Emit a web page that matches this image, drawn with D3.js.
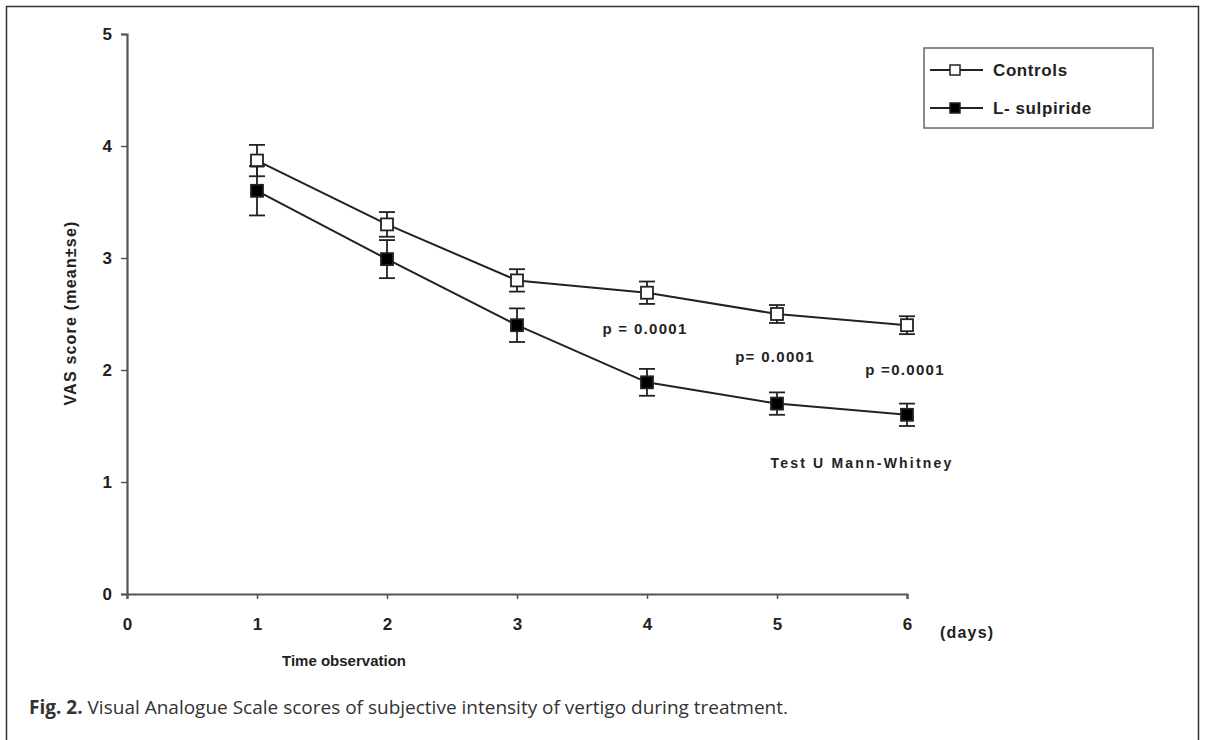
<!DOCTYPE html>
<html><head><meta charset="utf-8">
<script src="https://cdn.jsdelivr.net/npm/d3@7"></script>
<style>body{margin:0;background:#fff}svg{display:block}</style>
</head><body>
<svg id="c" width="1206" height="740"></svg>
<script>
const days = [1, 2, 3, 4, 5, 6];
const xTicks = [0, 1, 2, 3, 4, 5, 6];
const yTicks = [0, 1, 2, 3, 4, 5];
const controlsMean = [3.87, 3.30, 2.80, 2.69, 2.50, 2.40];
const controlsSe   = [0.14, 0.11, 0.10, 0.10, 0.08, 0.08];
const sulpMean     = [3.60, 2.99, 2.40, 1.89, 1.70, 1.60];
const sulpSe       = [0.22, 0.17, 0.15, 0.12, 0.10, 0.10];
const seriesNames  = ["Controls", "L- sulpiride"];
const pLabels = [
  {day: 4, v: 2.37, text: "p = 0.0001"},
  {day: 5, v: 2.12, text: "p= 0.0001"},
  {day: 6, v: 2.00, text: "p =0.0001"}
];
const testLabel = "Test  U  Mann-Whitney";

const svg = d3.select("#c");
const font = "'Liberation Sans', Arial, Helvetica, sans-serif";
const ink = "#222";

// frame
svg.append("rect").attr("x", 6.5).attr("y", 6.5).attr("width", 1192).attr("height", 760)
  .attr("fill", "none").attr("stroke", "#333").attr("stroke-width", 1.5);

const x = d3.scaleLinear().domain([0, 6]).range([127, 907]);
const y = d3.scaleLinear().domain([0, 5]).range([594, 34]);

// axes
const xAxis = svg.append("g").attr("transform", `translate(0,${y(0)})`)
  .call(d3.axisBottom(x).tickValues(xTicks).tickSize(5).tickPadding(25).tickFormat(d3.format("d")));
const yAxis = svg.append("g").attr("transform", `translate(${x(0)},0)`)
  .call(d3.axisLeft(y).tickValues(yTicks).tickSize(6).tickPadding(9).tickFormat(d3.format("d")));
[xAxis, yAxis].forEach(g => {
  g.select(".domain").attr("stroke", "#555").attr("stroke-width", 2.2);
  g.selectAll(".tick line").attr("stroke", "#555").attr("stroke-width", 1.5);
  g.selectAll(".tick text").attr("font-family", font).attr("font-size", 17)
    .attr("font-weight", "bold").attr("fill", ink);
});
xAxis.selectAll(".tick text").attr("dy", "0.35em");
yAxis.selectAll(".tick text").attr("dy", "0.35em");

svg.append("text").attr("x", x(6) + 33).attr("y", 632).attr("dy", "0.35em").text("(days)")
  .attr("font-family", font).attr("font-size", 16).attr("font-weight", "bold").attr("fill", ink)
  .attr("letter-spacing", 1.2);
svg.append("text").attr("x", 344).attr("y", 661).attr("dy", "0.35em").attr("text-anchor", "middle").text("Time observation")
  .attr("font-family", font).attr("font-size", 15).attr("font-weight", "bold").attr("fill", ink);
svg.append("text").attr("transform", `translate(70,313) rotate(-90)`).attr("dy", "0.35em").attr("text-anchor", "middle")
  .text("VAS score (mean±se)")
  .attr("font-family", font).attr("font-size", 16).attr("font-weight", "bold").attr("fill", ink)
  .attr("letter-spacing", 1.2);

// series
const series = [
  {name: seriesNames[0], mean: controlsMean, se: controlsSe, fill: "#fff"},
  {name: seriesNames[1], mean: sulpMean, se: sulpSe, fill: "#000"}
];
const line = d3.line().x(d => x(d.day)).y(d => y(d.v));
series.forEach(s => {
  const pts = days.map((d, i) => ({day: d, v: s.mean[i], se: s.se[i]}));
  svg.append("path").datum(pts).attr("d", line).attr("fill", "none")
    .attr("stroke", ink).attr("stroke-width", 2);
  const eb = svg.append("g");
  pts.forEach(p => {
    const cx = x(p.day);
    eb.append("line").attr("x1", cx).attr("x2", cx).attr("y1", y(p.v + p.se)).attr("y2", y(p.v - p.se))
      .attr("stroke", ink).attr("stroke-width", 1.8);
    [p.v + p.se, p.v - p.se].forEach(v => {
      eb.append("line").attr("x1", cx - 8).attr("x2", cx + 8).attr("y1", y(v)).attr("y2", y(v))
        .attr("stroke", ink).attr("stroke-width", 1.8);
    });
  });
  svg.append("g").selectAll("rect").data(pts).join("rect")
    .attr("x", d => x(d.day) - 6).attr("y", d => y(d.v) - 6)
    .attr("width", 12).attr("height", 12)
    .attr("fill", s.fill).attr("stroke", ink).attr("stroke-width", 1.8);
});

// p-value annotations
svg.append("g").selectAll("text").data(pLabels).join("text")
  .attr("x", d => x(d.day) - 2).attr("y", d => y(d.v)).attr("dy", "0.35em").attr("text-anchor", "middle")
  .text(d => d.text)
  .attr("font-family", font).attr("font-size", 15).attr("font-weight", "bold").attr("fill", ink)
  .attr("letter-spacing", 1.3);
svg.append("text").attr("x", 862).attr("y", 463).attr("dy", "0.35em").attr("text-anchor", "middle").text(testLabel)
  .attr("font-family", font).attr("font-size", 14).attr("font-weight", "bold").attr("fill", ink)
  .attr("letter-spacing", 2.2);

// legend
const lg = svg.append("g");
lg.append("rect").attr("x", 924).attr("y", 48).attr("width", 229).attr("height", 80)
  .attr("fill", "#fff").attr("stroke", "#666").attr("stroke-width", 1.5);
series.forEach((s, i) => {
  const ly = 70 + i * 38;
  lg.append("line").attr("x1", 930).attr("x2", 983).attr("y1", ly).attr("y2", ly)
    .attr("stroke", ink).attr("stroke-width", 2);
  lg.append("rect").attr("x", 950).attr("y", ly - 5).attr("width", 10).attr("height", 10)
    .attr("fill", s.fill).attr("stroke", ink).attr("stroke-width", 1.5);
  lg.append("text").attr("x", 993).attr("y", ly).attr("dy", "0.35em").text(s.name)
    .attr("font-family", font).attr("font-size", 17).attr("font-weight", "bold").attr("fill", ink)
    .attr("letter-spacing", 0.6);
});

// caption
const cap = svg.append("text").attr("x", 29).attr("y", 714)
  .attr("font-family", "'Open Sans', 'Noto Sans', sans-serif").attr("font-size", 19).attr("fill", "#333");
cap.append("tspan").attr("font-weight", "bold").text("Fig. 2.");
cap.append("tspan").text(" Visual Analogue Scale scores of subjective intensity of vertigo during treatment.");
</script>
</body></html>
